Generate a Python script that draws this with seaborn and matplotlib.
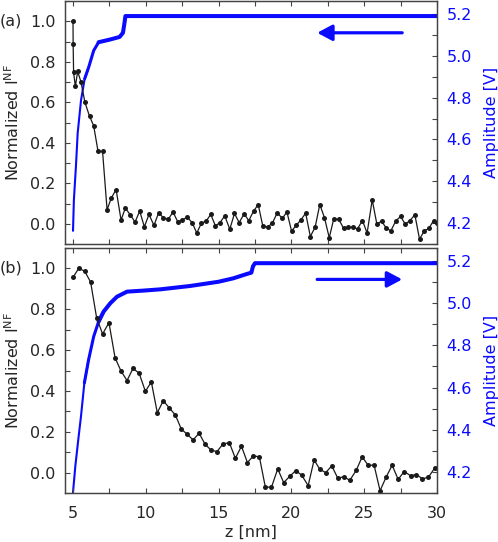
import numpy as np
import pandas as pd
import matplotlib
matplotlib.use("Agg")
import matplotlib.pyplot as plt
import seaborn as sns
from matplotlib.ticker import MultipleLocator

# ---------------- data ----------------
# panel (a): near-field intensity (black)
a_z = [5.0, 5.01, 5.04, 5.16, 5.32, 5.55, 5.82, 6.14, 6.42, 6.72, 7.03, 7.34, 7.63, 7.96,
       8.30, 8.59, 8.94, 9.26, 9.58, 9.90, 10.22, 10.56, 10.88, 11.20, 11.53, 11.87,
       12.19, 12.51, 12.83, 13.18, 13.5, 13.82, 14.14, 14.46, 14.78, 15.1, 15.42, 15.77,
       16.09, 16.41, 16.76, 17.07, 17.4, 17.72, 18.04, 18.36, 18.69, 19.03, 19.38, 19.69,
       20.01, 20.34, 20.66, 20.98, 21.3, 21.63, 21.95, 22.27, 22.6, 22.91, 23.26, 23.58,
       23.9, 24.21, 24.54, 24.88, 25.2, 25.55, 25.87, 26.19, 26.52, 26.83, 27.18, 27.5,
       27.82, 28.14, 28.48, 28.8, 29.13, 29.44, 29.77, 30.0]
a_nf = [1.0, 0.886, 0.747, 0.678, 0.752, 0.70, 0.599, 0.53, 0.484, 0.357, 0.357, 0.069,
        0.127, 0.169, 0.018, 0.077, 0.044, 0.008, 0.0625, -0.015, 0.046, -0.008, 0.054,
        0.030, 0.021, 0.058, 0.01, 0.018, 0.033, 0.006, -0.046, 0.003, 0.013, 0.046, -0.01,
        0.006, 0.039, -0.027, 0.051, 0.006, 0.049, 0.015, 0.062, 0.095, -0.013, -0.017,
        0.003, 0.054, 0.026, 0.059, -0.036, -0.007, 0.02, 0.052, -0.063, -0.017, 0.095,
        0.03, -0.069, 0.025, 0.021, -0.022, -0.017, -0.017, -0.025, 0.016, -0.046, 0.118,
        -0.002, 0.013, -0.022, -0.035, 0.015, 0.036, -0.002, 0.016, 0.044, -0.076, -0.035,
        -0.023, 0.016, 0.003]
# panel (a): amplitude (blue)
a_amp_z = [5.0, 5.06, 5.2, 5.32, 5.55, 5.8, 6.08, 6.42, 6.76, 7.5, 8.2, 8.43, 8.52, 8.6, 9.0, 30.0]
a_amp = [4.163, 4.31, 4.47, 4.63, 4.787, 4.89, 4.946, 5.025, 5.065, 5.077, 5.09, 5.11,
         5.15, 5.19, 5.19, 5.19]

# panel (b): near-field intensity (black)
b_z = [5.0, 5.39, 5.8, 6.21, 6.62, 7.03, 7.47, 7.89, 8.3, 8.71, 9.12, 9.54, 9.97, 10.38,
       10.79, 11.2, 11.62, 12.03, 12.44, 12.85, 13.25, 13.66, 14.07, 14.48, 14.89, 15.31,
       15.74, 16.15, 16.57, 16.98, 17.39, 17.8, 18.21, 18.63, 19.06, 19.47, 19.89, 20.3,
       20.71, 21.15, 21.56, 21.95, 22.36, 22.77, 23.19, 23.6, 24.01, 24.45, 24.86, 25.27,
       25.68, 26.09, 26.5, 26.92, 27.33, 27.75, 28.18, 28.59, 29.0, 29.41, 29.83]
b_nf = [0.956, 1.0, 0.987, 0.933, 0.759, 0.679, 0.734, 0.562, 0.497, 0.451, 0.51, 0.487,
        0.398, 0.444, 0.293, 0.352, 0.316, 0.282, 0.213, 0.187, 0.16, 0.193, 0.139, 0.11,
        0.103, 0.141, 0.146, 0.07, 0.129, 0.049, 0.082, 0.077, -0.071, -0.072, 0.018,
        -0.049, -0.018, 0.01, -0.013, -0.064, 0.062, 0.016, 0.0, 0.033, -0.028, -0.02,
        -0.038, 0.011, 0.077, 0.036, 0.036, -0.089, -0.023, 0.036, -0.033, 0.005, -0.015,
        -0.01, -0.03, -0.023, 0.021]
# panel (b): amplitude (blue)
b_amp_z = [5.0, 5.16, 5.39, 5.55, 5.78, 6.07, 6.42, 6.76, 7.1, 7.56, 8.02, 8.71, 9.85,
           11.0, 13.06, 15.0, 16.0, 16.95, 17.25, 17.36, 17.5, 18.0, 30.0]
b_amp = [4.103, 4.228, 4.37, 4.465, 4.622, 4.732, 4.842, 4.913, 4.96, 5.0, 5.031, 5.055,
         5.06, 5.066, 5.082, 5.102, 5.118, 5.139, 5.145, 5.175, 5.19, 5.19, 5.19]

panel_labels = ["(a)", "(b)"]
xticks = [5, 10, 15, 20, 25, 30]

# ---------------- style ----------------
sns.set_style("ticks")
plt.rcParams['font.family'] = ['DejaVu Sans']
FS = 11.5
BLUE = '#0a0aff'
SPINE = '#444444'

fig = plt.figure(figsize=(4.98, 5.42), dpi=100)
W, H = 498.0, 542.0
axA = fig.add_axes([65 / W, 1 - 244 / H, 372 / W, 243 / H])
axB = fig.add_axes([65 / W, 1 - 493 / H, 372 / W, 245 / H])


def draw(ax, z, nf, amp_z, amp, arrow_from, arrow_to, label, show_x):
    sns.lineplot(x=z, y=nf, ax=ax, color='#1a1a1a', lw=0.9, marker='o', markersize=3.6,
                 markeredgewidth=0, estimator=None, sort=False)
    ax2 = ax.twinx()
    amp_z = np.asarray(amp_z)
    amp = np.asarray(amp)
    segments = [(amp_z <= 6.1, 1.5), ((amp_z >= 5.78) & (amp_z <= 7.1), 2.2),
                (amp_z >= 6.76, 2.9)]
    for mask, lw in segments:
        sns.lineplot(x=amp_z[mask], y=amp[mask], ax=ax2, color=BLUE, lw=lw,
                     estimator=None, sort=False, solid_capstyle='round',
                     solid_joinstyle='round')
    ax.set_xlim(4.45, 30)
    ax.set_ylim(-0.1, 1.1)
    ax2.set_ylim(4.1, 5.262)
    ax.xaxis.set_major_locator(plt.FixedLocator(xticks))
    ax.xaxis.set_minor_locator(MultipleLocator(2.5))
    ax.yaxis.set_major_locator(MultipleLocator(0.2))
    ax.yaxis.set_minor_locator(MultipleLocator(0.1))
    ax2.yaxis.set_major_locator(MultipleLocator(0.2))
    ax2.yaxis.set_minor_locator(MultipleLocator(0.1))
    ax.tick_params(axis='both', which='both', direction='in', top=True, length=3.5,
                   width=0.8, color=SPINE, labelsize=FS, pad=7)
    ax.tick_params(axis='x', pad=9)
    ax2.tick_params(axis='y', which='both', direction='in', length=3.5, width=0.8,
                    color=SPINE, labelsize=FS, labelcolor=BLUE, pad=7)
    ax.set_yticks([0.0, 0.2, 0.4, 0.6, 0.8, 1.0])
    ax.set_yticklabels(["0.0", "0.2", "0.4", "0.6", "0.8", "1.0"])
    ax2.set_yticks([4.2, 4.4, 4.6, 4.8, 5.0, 5.2])
    ax2.set_yticklabels(["4.2", "4.4", "4.6", "4.8", "5.0", "5.2"])
    if not show_x:
        ax.tick_params(axis='x', labelbottom=False)
        ax.set_xlabel("")
    else:
        ax.set_xticklabels([str(v) for v in xticks])
        ax.set_xlabel("z [nm]", fontsize=FS, labelpad=3)
    ax.set_ylabel(r"Normalized I$^{\rm NF}$", fontsize=FS)
    ax.yaxis.set_label_coords(-0.115, 0.5)
    ax2.set_ylabel("Amplitude [V]", fontsize=FS, color=BLUE)
    ax2.yaxis.set_label_coords(1.125, 0.5)
    for a in (ax, ax2):
        for s in a.spines.values():
            s.set_color(SPINE)
            s.set_linewidth(0.9)
            s.set_visible(True)
    ax2.annotate("", xy=arrow_to, xytext=arrow_from,
                 arrowprops=dict(arrowstyle='-|>,head_length=0.6,head_width=0.32',
                                 color=BLUE, lw=2.3, mutation_scale=15,
                                 shrinkA=0, shrinkB=0))
    ax.text(-0.177, 1.0, label, transform=ax.get_yaxis_transform(), fontsize=FS,
            ha='left', va='center')
    ax.set_zorder(ax2.get_zorder() + 1)
    ax.patch.set_visible(False)
    return ax2


draw(axA, a_z, a_nf, a_amp_z, a_amp, (27.61, 5.11), (21.77, 5.11), panel_labels[0], False)
draw(axB, b_z, b_nf, b_amp_z, b_amp, (21.77, 5.113), (27.61, 5.113), panel_labels[1], True)

fig.savefig("out.png", dpi=100)
